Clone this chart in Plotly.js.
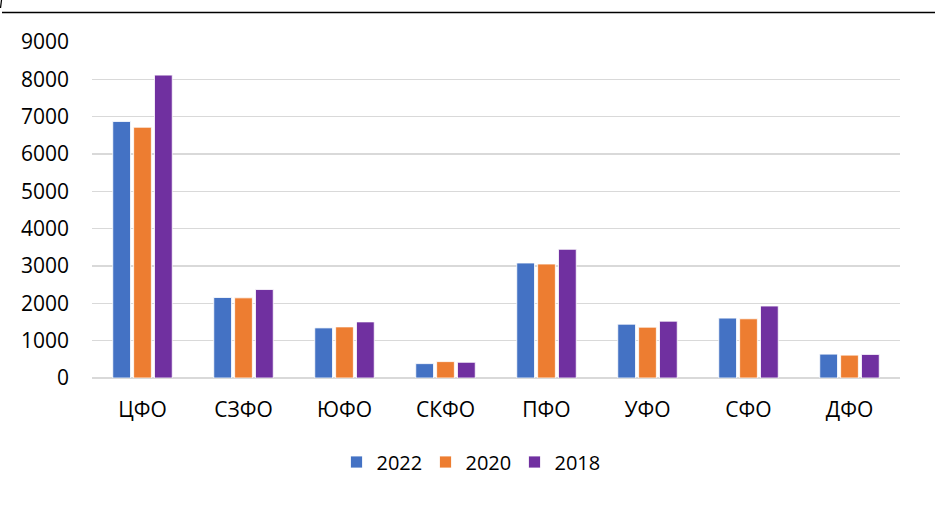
<!DOCTYPE html>
<html>
<head>
<meta charset="utf-8">
<script src="https://cdn.plot.ly/plotly-3.0.1.min.js"></script>
<style>html,body{margin:0;padding:0;background:#fff;}#chart{width:935px;height:513px;}</style>
</head>
<body>
<div id="chart"></div>
<script>
const categories = ['ЦФО','СЗФО','ЮФО','СКФО','ПФО','УФО','СФО','ДФО'];
const seriesNames = ['2022','2020','2018'];
const values2022 = [6870, 2156, 1342, 385, 3080, 1441, 1604, 640];
const values2020 = [6717, 2147, 1369, 439, 3053, 1361, 1586, 613];
const values2018 = [8113, 2370, 1503, 421, 3447, 1522, 1928, 631];
const yTicks = [0,1000,2000,3000,4000,5000,6000,7000,8000,9000];
const colors = ['#4472C4','#ED7D31','#7030A0'];

const allValues = [values2022, values2020, values2018];
const traces = allValues.map((v, i) => ({
  type: 'bar',
  name: seriesNames[i],
  x: categories,
  y: v,
  marker: {color: colors[i], line: {color: 'rgba(255,255,255,0.8)', width: 1}},
  hoverinfo: 'x+y+name'
}));

const font = 'Open Sans, Liberation Sans, sans-serif';
const L = 92, R = 900, T = 42, B = 378, W = 935, H = 513;
const pw = R - L, ph = B - T;

const layout = {
  width: W, height: H,
  margin: {l: L, r: W - R, t: T, b: H - B, pad: 0},
  paper_bgcolor: '#fff', plot_bgcolor: '#fff',
  barmode: 'group',
  bargap: 0.38,
  bargroupgap: 0.15,
  font: {family: font, color: '#000', size: 21},
  showlegend: true,
  legend: {
    orientation: 'h', x: (470 - L) / pw, xanchor: 'center',
    y: -(462 - B) / ph, yanchor: 'middle',
    font: {family: font, size: 20, color: '#000'},
    itemwidth: 30, entrywidth: 44, entrywidthmode: 'pixels', traceorder: 'normal'
  },
  xaxis: {
    type: 'category',
    showgrid: false, zeroline: false, showline: false,
    ticks: '', tickfont: {family: font, size: 21, color: '#000'},
    ticklabelstandoff: 17
  },
  yaxis: {
    range: [0, 9000],
    tickvals: yTicks,
    ticktext: yTicks.map(String),
    showgrid: true, gridcolor: '#d9d9d9', gridwidth: 1.5,
    zeroline: true, zerolinecolor: '#d9d9d9', zerolinewidth: 1.5,
    showline: false, ticks: '',
    tickfont: {family: font, size: 21, color: '#000'},
    ticklabelstandoff: 22
  },
  shapes: [
    {type: 'line', xref: 'paper', yref: 'paper',
     x0: (2 - L) / pw, x1: (935 - L) / pw,
     y0: (B - 12.5) / ph, y1: (B - 12.5) / ph,
     line: {color: '#000', width: 1.6}},
    {type: 'line', xref: 'paper', yref: 'paper',
     x0: (1.5 - L) / pw, x1: (0.5 - L) / pw,
     y0: (B - 0) / ph, y1: (B - 8) / ph,
     line: {color: '#000', width: 1.2}}
  ]
};

Plotly.newPlot('chart', traces, layout, {displayModeBar: false, staticPlot: true});
</script>
</body>
</html>
